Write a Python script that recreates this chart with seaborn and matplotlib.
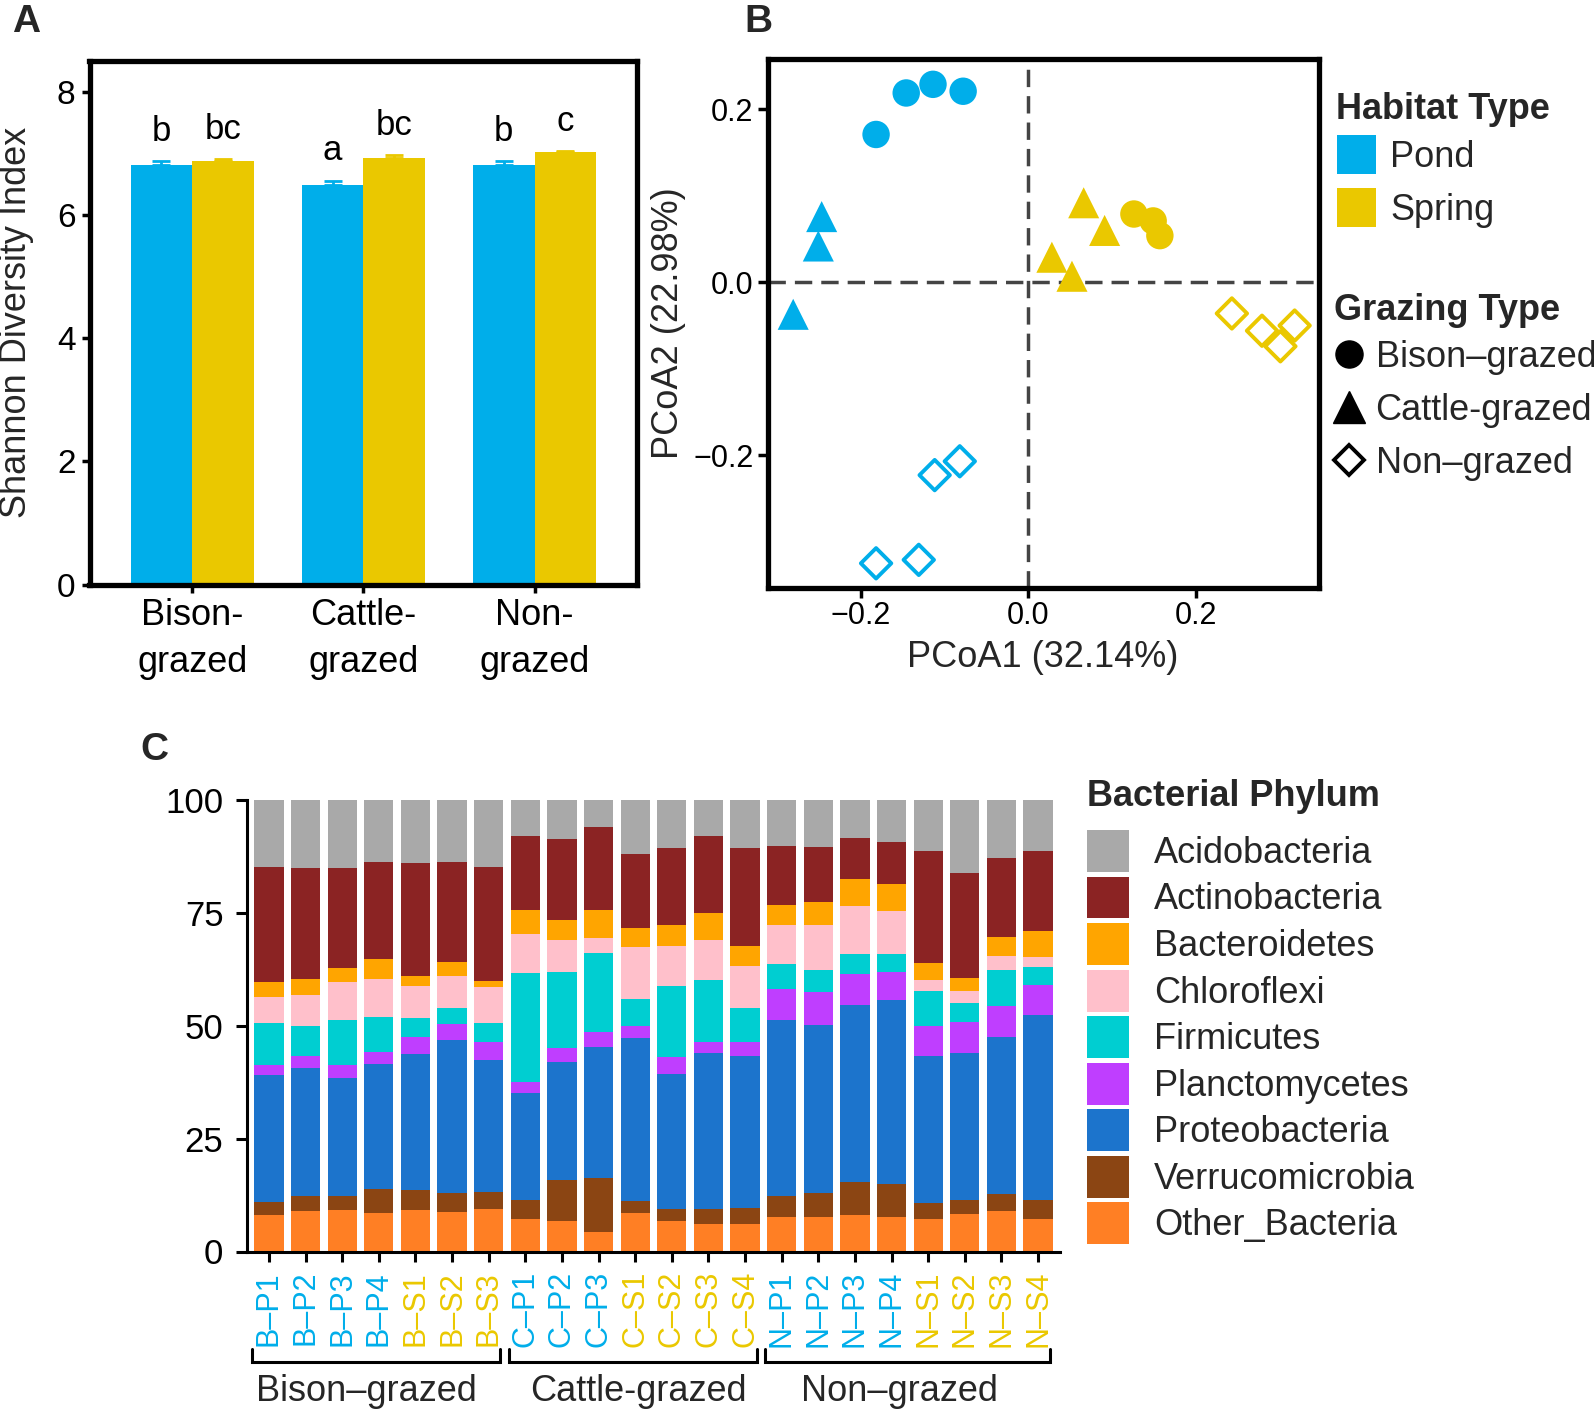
import numpy as np
import pandas as pd
import matplotlib
matplotlib.use("Agg")
import matplotlib.pyplot as plt
import matplotlib.transforms as mtrans
from matplotlib.patches import Patch
from matplotlib.lines import Line2D
import seaborn as sns

# ---------------- data ----------------
habitats = ["Pond", "Spring"]
habitat_colors = {"Pond": "#00AEEA", "Spring": "#EAC800"}
grazing_types = ["Bison–grazed", "Cattle-grazed", "Non–grazed"]

# Panel A
grazing_tick_labels = ["Bison-\ngrazed", "Cattle-\ngrazed", "Non-\ngrazed"]
shannon_pond = [6.81, 6.49, 6.81]
shannon_spring = [6.88, 6.92, 7.02]
se_pond = [0.06, 0.07, 0.06]
se_spring = [0.03, 0.05, 0.02]
letters_pond = ["b", "a", "b"]
letters_spring = ["bc", "bc", "c"]

# Panel B
pcoa_habitat = (["Pond"] * 11) + (["Spring"] * 11)
pcoa_grazing = (["Bison–grazed"] * 4 + ["Cattle-grazed"] * 3 + ["Non–grazed"] * 4
                + ["Bison–grazed"] * 3 + ["Cattle-grazed"] * 4 + ["Non–grazed"] * 4)
pcoa1 = [-0.182, -0.146, -0.114, -0.078,
         -0.247, -0.251, -0.281,
         -0.082, -0.112, -0.182, -0.131,
         0.126, 0.149, 0.157,
         0.066, 0.091, 0.028, 0.052,
         0.243, 0.279, 0.301, 0.318]
pcoa2 = [0.171, 0.219, 0.229, 0.221,
         0.076, 0.042, -0.037,
         -0.207, -0.223, -0.325, -0.321,
         0.079, 0.071, 0.054,
         0.092, 0.060, 0.029, 0.007,
         -0.036, -0.056, -0.074, -0.050]

# Panel C
samples = ["B–P1", "B–P2", "B–P3", "B–P4", "B–S1", "B–S2", "B–S3",
           "C–P1", "C–P2", "C–P3", "C–S1", "C–S2", "C–S3", "C–S4",
           "N–P1", "N–P2", "N–P3", "N–P4", "N–S1", "N–S2", "N–S3", "N–S4"]
sample_habitat = ["Pond"] * 4 + ["Spring"] * 3 + ["Pond"] * 3 + ["Spring"] * 4 + ["Pond"] * 4 + ["Spring"] * 4
sample_grazing = ["Bison–grazed"] * 7 + ["Cattle-grazed"] * 7 + ["Non–grazed"] * 8

acidobacteria   = [14.8, 15.1, 15.0, 13.7, 13.9, 13.7, 14.8, 7.9, 8.6, 5.9, 11.9, 10.6, 8.0, 10.6, 10.2, 10.3, 8.4, 9.2, 11.4, 16.2, 12.8, 11.3]
actinobacteria  = [25.5, 24.5, 22.2, 21.5, 25.0, 22.2, 25.2, 16.5, 18.0, 18.5, 16.4, 17.1, 17.0, 21.7, 13.0, 12.2, 9.0, 9.5, 24.7, 23.2, 17.5, 17.7]
bacteroidetes   = [3.3, 3.5, 3.2, 4.4, 2.4, 3.1, 1.4, 5.2, 4.5, 6.2, 4.2, 4.6, 5.9, 4.4, 4.5, 5.2, 6.1, 5.9, 3.8, 2.8, 4.3, 5.7]
chloroflexi     = [5.8, 6.9, 8.3, 8.4, 6.9, 7.1, 7.9, 8.7, 6.9, 3.3, 11.5, 9.0, 8.9, 9.4, 8.7, 9.9, 10.5, 9.4, 2.5, 2.7, 3.0, 2.3]
firmicutes      = [9.2, 6.6, 10.1, 7.9, 4.4, 3.5, 4.4, 24.1, 16.9, 17.4, 6.0, 15.7, 13.8, 7.5, 5.4, 5.0, 4.5, 4.2, 7.6, 4.3, 8.0, 3.9]
planctomycetes  = [2.3, 2.7, 2.7, 2.6, 3.6, 3.5, 3.8, 2.4, 3.1, 3.5, 2.8, 3.7, 2.4, 3.2, 6.9, 7.2, 6.8, 6.0, 6.6, 6.8, 6.9, 6.7]
proteobacteria  = [28.2, 28.4, 26.3, 27.7, 30.2, 34.0, 29.4, 23.9, 26.1, 29.0, 36.1, 29.8, 34.5, 33.5, 38.9, 37.2, 39.4, 40.8, 32.6, 32.6, 34.7, 41.1]
verrucomicrobia = [2.9, 3.3, 2.9, 5.2, 4.5, 4.1, 3.7, 4.1, 9.1, 11.8, 2.5, 2.7, 3.3, 3.5, 4.7, 5.3, 7.2, 7.3, 3.6, 3.2, 3.8, 4.1]
other_bacteria  = [8.0, 9.0, 9.3, 8.6, 9.1, 8.8, 9.4, 7.2, 6.8, 4.4, 8.6, 6.8, 6.2, 6.2, 7.7, 7.7, 8.1, 7.7, 7.2, 8.2, 9.0, 7.2]

phyla = ["Acidobacteria", "Actinobacteria", "Bacteroidetes", "Chloroflexi", "Firmicutes",
         "Planctomycetes", "Proteobacteria", "Verrucomicrobia", "Other_Bacteria"]
phylum_colors = {"Acidobacteria": "#A9A9A9", "Actinobacteria": "#8B2323", "Bacteroidetes": "#FFA500",
                 "Chloroflexi": "#FFC0CB", "Firmicutes": "#00CED1", "Planctomycetes": "#BF3EFF",
                 "Proteobacteria": "#1C74CC", "Verrucomicrobia": "#8B4513", "Other_Bacteria": "#FF7F24"}

# ---------------- style ----------------
sns.set_style("ticks")
plt.rcParams["font.family"] = ["Liberation Sans", "DejaVu Sans"]
plt.rcParams["axes.unicode_minus"] = True

W, H = 1594, 1412
fig = plt.figure(figsize=(W / 100, H / 100), dpi=100)


def rect(l, t, r, b):
    return [l / W, 1 - b / H, (r - l) / W, (b - t) / H]


# ---------------- Panel A ----------------
axA = fig.add_axes(rect(89.5, 61, 637.4, 584.6))
dfa = pd.DataFrame({"grazing": grazing_types * 2,
                    "habitat": ["Pond"] * 3 + ["Spring"] * 3,
                    "shannon": shannon_pond + shannon_spring,
                    "se": se_pond + se_spring,
                    "letter": letters_pond + letters_spring})
sns.barplot(data=dfa, x="grazing", y="shannon", hue="habitat", order=grazing_types,
            hue_order=habitats, palette=habitat_colors, width=0.72, saturation=1,
            errorbar=None, legend=False, linewidth=0, ax=axA)
for p in list(axA.patches):
    cx = p.get_x() + p.get_width() / 2
    h = p.get_height()
    if not np.isfinite(h) or h <= 0:
        continue
    gi = int(round(cx))
    hab = "Pond" if cx < gi else "Spring"
    row = dfa[(dfa.grazing == grazing_types[gi]) & (dfa.habitat == hab)].iloc[0]
    axA.errorbar([cx], [row.shannon], yerr=[[0], [row.se]], color=habitat_colors[hab],
                 elinewidth=2, capsize=6.3, capthick=2, zorder=4)
    axA.text(cx, row.shannon + row.se + 0.33, row.letter, ha="center", va="baseline",
             fontsize=25, color="black")
axA.set_xlim(-0.6, 2.6)
axA.set_ylim(0, 8.5)
axA.set_yticks([0, 2, 4, 6, 8])
axA.set_xticks(range(3))
axA.set_xticklabels(grazing_tick_labels, fontsize=26, linespacing=1.42)
axA.tick_params(axis="y", labelsize=24, length=6, width=2.5, pad=4, colors="black")
axA.tick_params(axis="x", length=5.8, width=2.5, pad=4, colors="black")
axA.set_xlabel("")
axA.set_ylabel("")
for s in axA.spines.values():
    s.set_visible(True)
    s.set_linewidth(3.8)
    s.set_color("black")
fig.text(17 / W, 1 - 322.8 / H, "Shannon Diversity Index", rotation=90, ha="center",
         va="center", fontsize=26)

# ---------------- Panel B ----------------
axB = fig.add_axes(rect(767.5, 59, 1318.5, 587.6))
dfb = pd.DataFrame({"habitat": pcoa_habitat, "grazing": pcoa_grazing,
                    "PCoA1": pcoa1, "PCoA2": pcoa2})
axB.axhline(0, color="#444444", lw=2.5, ls=(0, (5, 2.6)), zorder=1)
axB.axvline(0, color="#444444", lw=2.5, ls=(0, (5, 2.6)), zorder=1)
filled = dfb[dfb.grazing != "Non–grazed"]
sns.scatterplot(data=filled, x="PCoA1", y="PCoA2", hue="habitat", hue_order=habitats,
                palette=habitat_colors, style="grazing",
                style_order=["Bison–grazed", "Cattle-grazed"],
                markers={"Bison–grazed": "o", "Cattle-grazed": "^"},
                size="grazing", sizes={"Bison–grazed": 390, "Cattle-grazed": 500},
                linewidth=0, legend=False, ax=axB, zorder=3)
hollow = dfb[dfb.grazing == "Non–grazed"]
sns.scatterplot(data=hollow, x="PCoA1", y="PCoA2", hue="habitat", hue_order=habitats,
                palette=habitat_colors, marker="D", s=240, linewidth=2.8,
                legend=False, ax=axB, zorder=3)
coll = axB.collections[-1]
fcs = coll.get_facecolors()
coll.set_edgecolors(fcs)
coll.set_facecolors("none")
axB.set_xlim(-0.3117, 0.3465)
axB.set_ylim(-0.3531, 0.2583)
axB.set_xticks([-0.2, 0.0, 0.2])
axB.set_yticks([-0.2, 0.0, 0.2])
axB.tick_params(labelsize=22, length=7, width=2.5, pad=3, colors="black")
axB.set_xlabel("")
axB.set_ylabel("")
for s in axB.spines.values():
    s.set_visible(True)
    s.set_linewidth(3.8)
    s.set_color("black")
fig.text(668 / W, 1 - 323.3 / H, "PCoA2 (22.98%)", rotation=90, ha="center", va="center", fontsize=26)
fig.text(1043 / W, 1 - 667 / H, "PCoA1 (32.14%)", ha="center", va="baseline", fontsize=26)

# legends for B
fig.text(1336 / W, 1 - 119 / H, "Habitat Type", fontsize=26, fontweight="bold", va="baseline")
hab_handles = [Patch(facecolor=habitat_colors[h], edgecolor="none", label=h) for h in habitats]
fig.legend(handles=hab_handles, loc="upper left", bbox_to_anchor=(1337 / W, 1 - 135 / H),
           frameon=False, fontsize=26, handlelength=1.08, handleheight=1.285,
           handletextpad=0.39, labelspacing=0.38, borderpad=0, borderaxespad=0)
fig.text(1334 / W, 1 - 319.5 / H, "Grazing Type", fontsize=26, fontweight="bold", va="baseline")
graz_handles = [
    Line2D([], [], marker="o", color="black", linestyle="none", markersize=19.5, label=grazing_types[0]),
    Line2D([], [], marker="^", color="black", linestyle="none", markersize=23, label=grazing_types[1]),
    Line2D([], [], marker="D", markerfacecolor="none", markeredgecolor="black", markeredgewidth=2.8,
           linestyle="none", markersize=15.3, label=grazing_types[2]),
]
fig.legend(handles=graz_handles, loc="upper left", bbox_to_anchor=(1334 / W, 1 - 340 / H),
           frameon=False, fontsize=26, handlelength=0.85, handletextpad=0.3,
           labelspacing=0.5, borderpad=0, borderaxespad=0)

# ---------------- Panel C ----------------
axC = fig.add_axes(rect(247, 800, 1060, 1251.5))
dfc = pd.DataFrame({"Acidobacteria": acidobacteria, "Actinobacteria": actinobacteria,
                    "Bacteroidetes": bacteroidetes, "Chloroflexi": chloroflexi,
                    "Firmicutes": firmicutes, "Planctomycetes": planctomycetes,
                    "Proteobacteria": proteobacteria, "Verrucomicrobia": verrucomicrobia,
                    "Other_Bacteria": other_bacteria}, index=samples)
stack_order = phyla[::-1]  # bottom to top
cum = dfc[stack_order].cumsum(axis=1)
for ph in phyla:  # draw tallest cumulative first
    sns.barplot(x=samples, y=cum[ph].values, order=samples, color=phylum_colors[ph],
                saturation=1, width=0.8, linewidth=0, ax=axC)
axC.set_xlim(-0.6, len(samples) - 0.4)
axC.set_ylim(0, 100)
axC.set_yticks([0, 25, 50, 75, 100])
axC.tick_params(axis="y", labelsize=25, length=8, width=2.2, pad=9, colors="black")
axC.tick_params(axis="x", length=7, width=2.2, pad=7, colors="black")
axC.set_xticks(range(len(samples)))
axC.set_xticklabels(samples, rotation=90, fontsize=22)
for lab, hab in zip(axC.get_xticklabels(), sample_habitat):
    lab.set_color(habitat_colors[hab])
axC.set_xlabel("")
axC.set_ylabel("")
sns.despine(ax=axC)
for side in ["left", "bottom"]:
    axC.spines[side].set_linewidth(2.2)
    axC.spines[side].set_color("black")

trans = mtrans.blended_transform_factory(axC.transData, axC.transAxes)
label_shift = {"Bison–grazed": -0.275, "Cattle-grazed": 0.145, "Non–grazed": -0.225}
for g in grazing_types:
    idx = [i for i, sg in enumerate(sample_grazing) if sg == g]
    x0, x1 = min(idx) - 0.45, max(idx) + 0.32
    axC.plot([x0, x0, x1, x1], [-0.216, -0.245, -0.245, -0.216], color="black", lw=2.2,
             transform=trans, clip_on=False, solid_joinstyle="miter")
    axC.text((x0 + x1) / 2 + label_shift[g], -0.309, g, transform=trans, ha="center",
             va="center", fontsize=26)

fig.text(1087 / W, 1 - 806 / H, "Bacterial Phylum", fontsize=26, fontweight="bold", va="baseline")
phy_handles = [Patch(facecolor=phylum_colors[p], edgecolor="none", label=p) for p in phyla]
fig.legend(handles=phy_handles, loc="upper left", bbox_to_anchor=(1087 / W, 1 - 830 / H),
           frameon=False, fontsize=26, handlelength=1.163, handleheight=1.412,
           handletextpad=0.69, labelspacing=0.125, borderpad=0, borderaxespad=0)

# panel letters
fig.text(12 / W, 1 - 32.5 / H, "A", fontsize=28, fontweight="bold", va="baseline")
fig.text(744 / W, 1 - 32.5 / H, "B", fontsize=28, fontweight="bold", va="baseline")
fig.text(140 / W, 1 - 760 / H, "C", fontsize=28, fontweight="bold", va="baseline")

fig.savefig("out.png", dpi=100)
